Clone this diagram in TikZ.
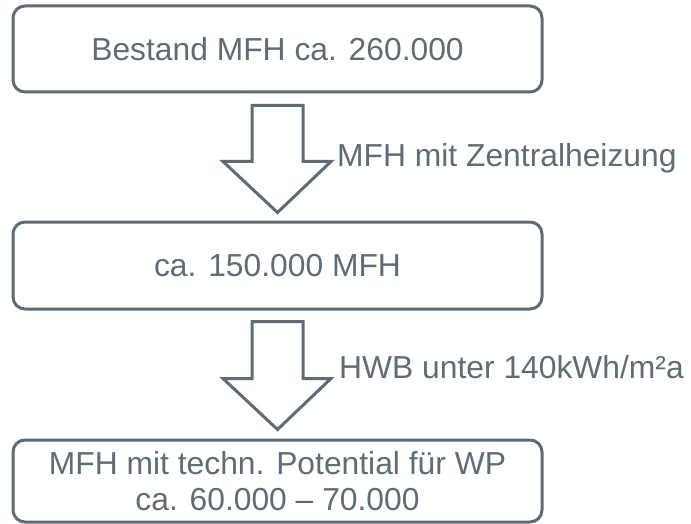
\documentclass[tikz,border=0pt]{standalone}
\usepackage{fontspec}
\setmainfont{Liberation Sans}
\usepackage{tikz}
\usetikzlibrary{positioning}
\definecolor{slate}{RGB}{95, 108, 118}

\begin{document}
\begin{tikzpicture}[x=1pt, y=-1pt]
	\tikzstyle{stage} = [draw=slate, line width=3pt, rounded corners=12pt, minimum width=529pt, inner sep=0pt, text=slate, align=center, font=\fontsize{31.8}{36}\selectfont]
	\tikzstyle{flow} = [draw=slate, line width=3pt, fill=white, line join=miter]
	\tikzstyle{cond} = [text=slate, inner sep=0pt, anchor=base west, font=\fontsize{31.8}{36}\selectfont]

	\useasboundingbox (0,0) rectangle (691,524);

	\node[stage, minimum height=86pt] (bestand) at (277.5,49) {Bestand MFH ca. 260.000};
	\node[stage, minimum height=87pt] (zentral) at (277.5,265.5) {ca. 150.000 MFH};
	\node[stage, minimum height=82pt] (potential) at (277.5,481) {MFH mit techn. Potential f\"ur WP\\ca. 60.000 -- 70.000};

	\coordinate (a1) at ([yshift=-12pt]bestand.south);
	\coordinate (a2) at ([yshift=-11pt]zentral.south);

	\draw[flow] (a1) ++(-25.5,0) -- ++(0,56) -- ++(-29,0) -- ++(54.5,51) -- ++(53.5,-51) -- ++(-28,0) -- ++(0,-56) -- cycle;
	\draw[flow] (a2) ++(-25.5,0) -- ++(0,57) -- ++(-29,0) -- ++(54.5,51) -- ++(53.5,-51) -- ++(-28,0) -- ++(0,-57) -- cycle;

	\node[cond] (heizung) at (337,167) {MFH mit Zentralheizung};
	\node[cond] (hwb) at (339,378) {HWB unter 140kWh/m²a};
\end{tikzpicture}
\end{document}
